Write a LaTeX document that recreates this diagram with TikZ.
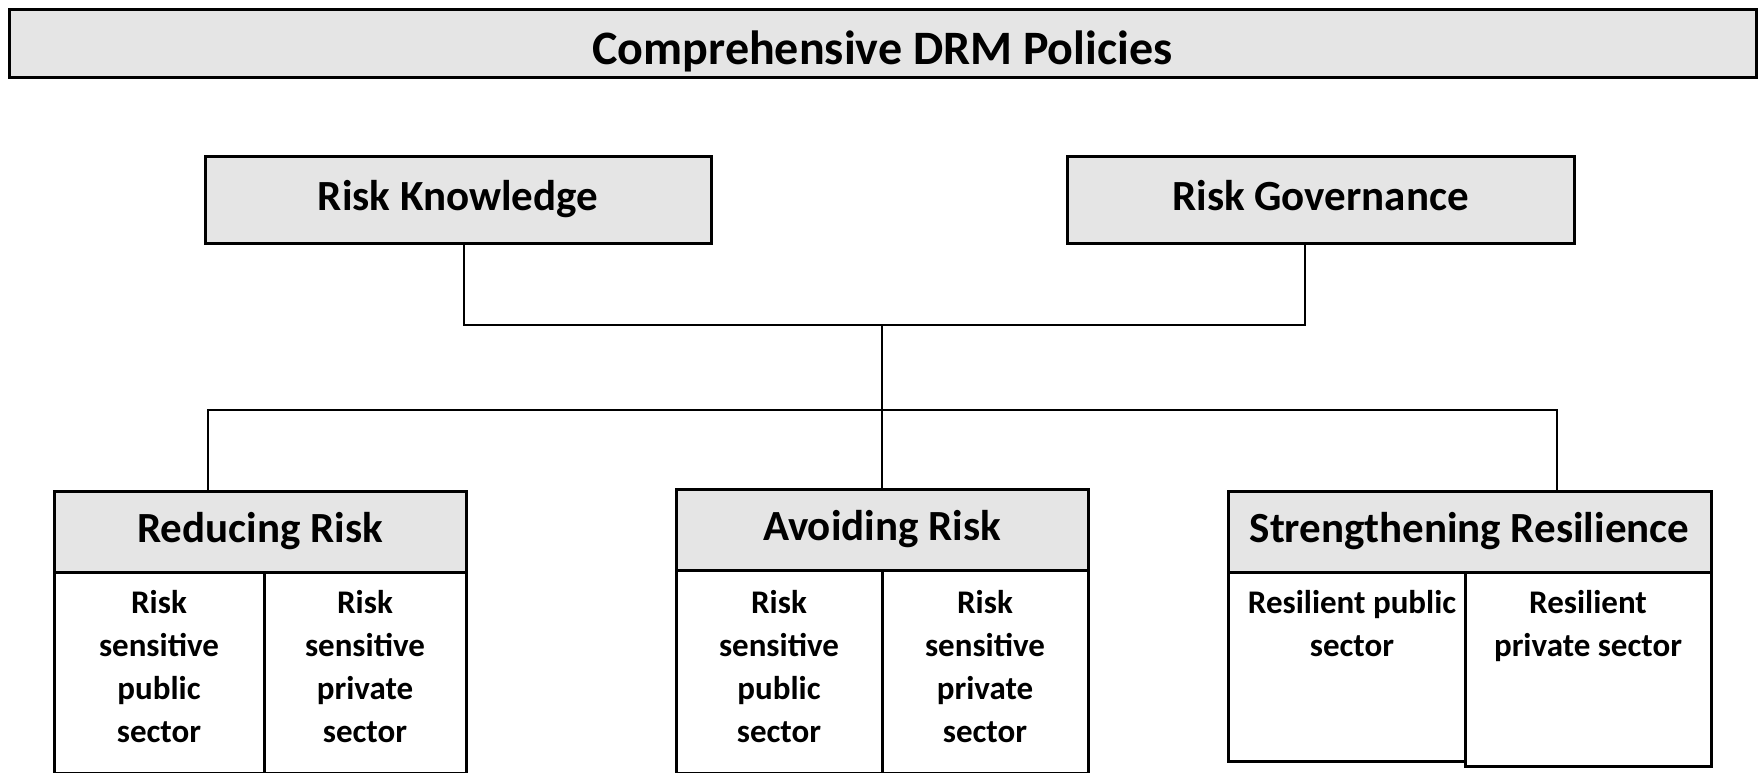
\documentclass[tikz,border=0pt]{standalone}
\usepackage{fontspec}
\setmainfont{Carlito}
\definecolor{boxgray}{HTML}{E5E5E5}
\tikzset{
  hbox/.style={draw=black, line width=3pt, fill=boxgray, inner sep=0pt, font=\bfseries\fontsize{43}{50}\selectfont, execute at begin node={\vphantom{g}}},
  colbox/.style={draw=black, line width=3pt, fill=white},
  coltext/.style={inner sep=0pt, align=center, anchor=north, font=\bfseries\fontsize{33}{43}\selectfont},
  conn/.style={draw=black, line width=2.8pt},
}
\begin{document}
\begin{tikzpicture}[x=1pt,y=-1pt]
\useasboundingbox (0,0) rectangle (1763,772);
\fill[white] (0,0) rectangle (1763,772);
% title
\node[hbox, minimum width=1747pt, minimum height=68pt, text height=42pt, text depth=0pt, font=\bfseries\fontsize{48}{54}\selectfont] (title) at (882.5,43) {Comprehensive DRM Policies};
% second level
\node[hbox, minimum width=506pt, minimum height=87pt] (rk) at (458,199.5) {Risk Knowledge};
\node[hbox, minimum width=507pt, minimum height=87pt] (rg) at (1320.5,199.5) {Risk Governance};
% columns
\draw[colbox] (54,572) rectangle (264,773) coordinate (rr1);
\draw[colbox] (264,572) rectangle (466,773) coordinate (rr2);
\draw[colbox] (676,570) rectangle (882,773) coordinate (ar1);
\draw[colbox] (882,570) rectangle (1088,773) coordinate (ar2);
\draw[colbox] (1228,572) rectangle (1465,761) coordinate (sr1);
\draw[colbox] (1465,572) rectangle (1711,766) coordinate (sr2);
% headers
\node[hbox, minimum width=412pt, minimum height=81pt] (rr) at (260,531.5) {Reducing Risk};
\node[hbox, minimum width=412pt, minimum height=81pt] (ar) at (882,529.5) {Avoiding Risk};
\node[hbox, minimum width=483pt, minimum height=81pt] (sr) at (1469.5,531.5) {Strengthening Resilience};
% column texts
\node[coltext] (t1) at (159,590) {Risk\\sensitive\\public\\sector};
\node[coltext] (t2) at (365,590) {Risk\\sensitive\\private\\sector};
\node[coltext] (t3) at (779,590) {Risk\\sensitive\\public\\sector};
\node[coltext] (t4) at (985,590) {Risk\\sensitive\\private\\sector};
\node[coltext] (t5) at (1352,590) {Resilient public\\sector};
\node[coltext] (t6) at (1588,590) {Resilient\\private sector};
% connectors
\coordinate (j1) at (882,325);
\coordinate (j2) at (882,410);
\draw[conn] ([xshift=6pt]rk.south) |- (j1) -| ([xshift=-15.5pt]rg.south);
\draw[conn] (j1) -- (ar.north);
\draw[conn] ([xshift=-52pt]rr.north) |- (j2) -| ([xshift=87.5pt]sr.north);
\end{tikzpicture}
\end{document}
